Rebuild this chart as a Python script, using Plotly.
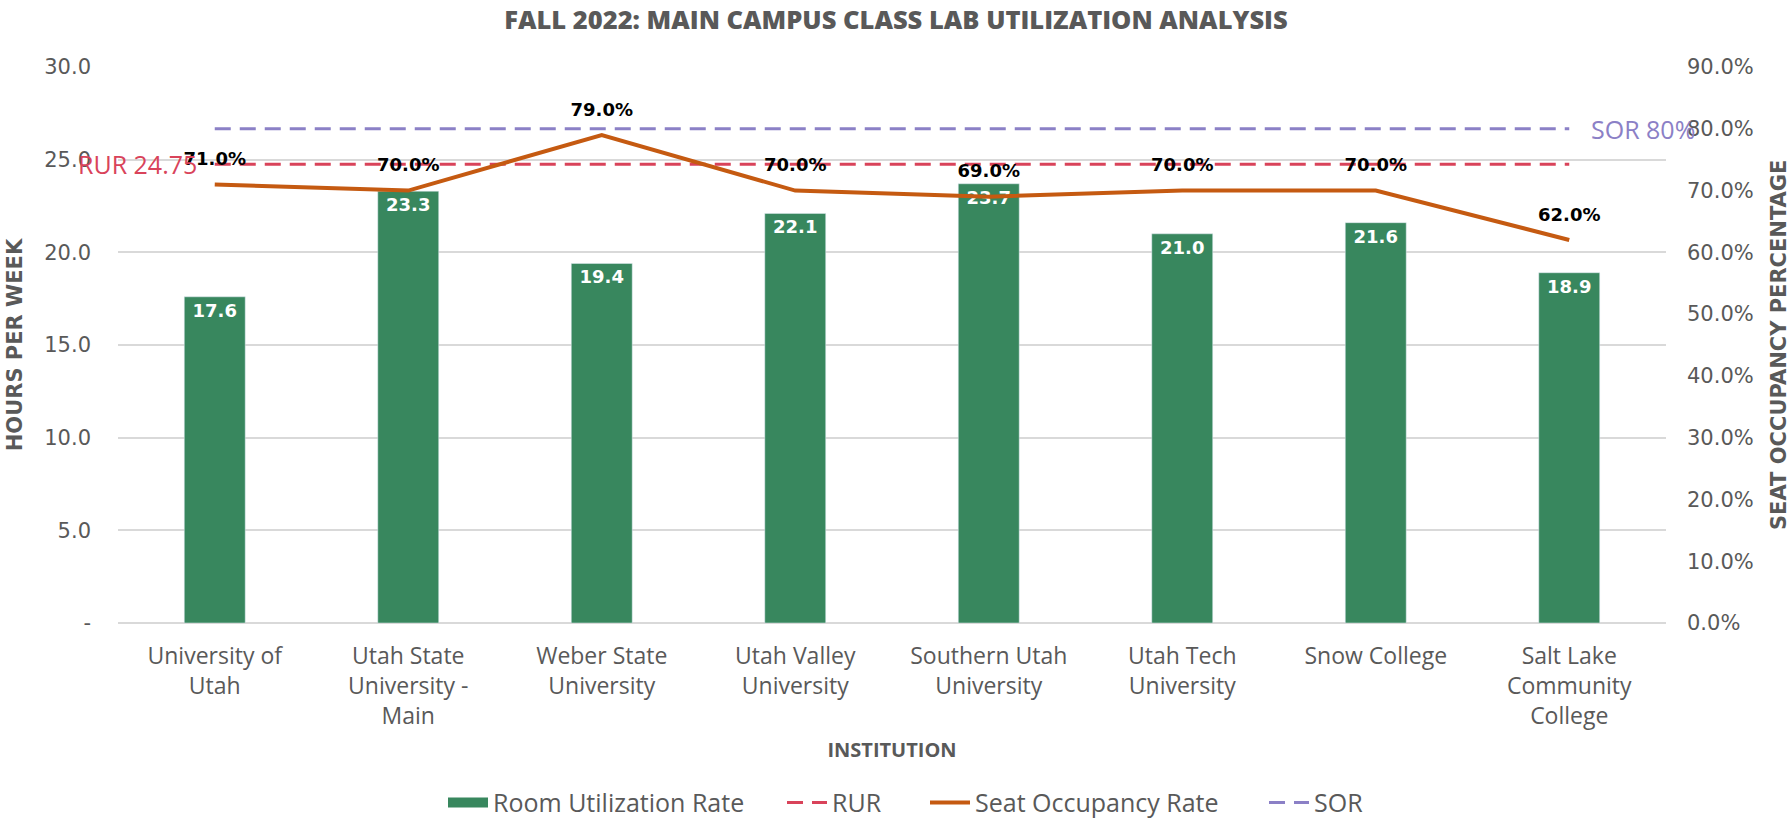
import plotly.graph_objects as go

categories = ["University of<br>Utah", "Utah State<br>University -<br>Main", "Weber State<br>University",
              "Utah Valley<br>University", "Southern Utah<br>University", "Utah Tech<br>University",
              "Snow College", "Salt Lake<br>Community<br>College"]
room_util = [17.6, 23.3, 19.4, 22.1, 23.7, 21.0, 21.6, 18.9]
seat_occ = [0.71, 0.70, 0.79, 0.70, 0.69, 0.70, 0.70, 0.62]
rur_value = 24.75
sor_value = 0.80
left_tickvals = [0, 5, 10, 15, 20, 25, 30]
left_ticktext = ["-", "5.0", "10.0", "15.0", "20.0", "25.0", "30.0"]
right_tickvals = [0, 0.1, 0.2, 0.3, 0.4, 0.5, 0.6, 0.7, 0.8, 0.9]

GREEN = "#38875E"
ORANGE = "#C55A11"
RED = "#D9435A"
PURPLE = "#8B80C6"
GRAY = "#595959"
TICKFONT = "DejaVu Sans, sans-serif"
CATFONT = "Open Sans, sans-serif"
W = 1792.0

fig = go.Figure()
fig.add_trace(go.Bar(
    x=categories, y=room_util, name="Room Utilization Rate", showlegend=False,
    marker=dict(color=GREEN), width=0.315,
    text=[f"{v:.1f}" for v in room_util], textposition="inside", insidetextanchor="end",
    textfont=dict(color="white", size=18, family=TICKFONT, weight="bold"),
    cliponaxis=False,
))
# legend entry for the bars (wide rectangle swatch)
fig.add_trace(go.Scatter(
    x=[categories[0]], y=[None], name="Room Utilization Rate", mode="lines",
    line=dict(color=GREEN, width=13), hoverinfo="skip", legend="legend",
))
fig.add_trace(go.Scatter(
    x=[categories[0], categories[-1]], y=[rur_value, rur_value], name="RUR",
    mode="lines", line=dict(color=RED, width=3, dash="16px,9px"), legend="legend2",
))
fig.add_trace(go.Scatter(
    x=categories, y=seat_occ, name="Seat Occupancy Rate", yaxis="y2",
    mode="lines+markers+text", line=dict(color=ORANGE, width=4),
    marker=dict(size=22, color="rgba(0,0,0,0)"),
    text=[f"{v*100:.1f}%" for v in seat_occ], textposition="top center",
    textfont=dict(color="black", size=18, family=TICKFONT, weight="bold"), cliponaxis=False,
    legend="legend3",
))
fig.add_trace(go.Scatter(
    x=[categories[0], categories[-1]], y=[sor_value, sor_value], name="SOR", yaxis="y2",
    mode="lines", line=dict(color=PURPLE, width=3, dash="16px,9px"), legend="legend4",
))

fig.add_annotation(
    text=f"RUR {rur_value}", x=categories[0], y=rur_value, xref="x", yref="y",
    xanchor="right", yanchor="middle", xshift=-16, showarrow=False,
    font=dict(color=RED, size=25, family=CATFONT),
)
fig.add_annotation(
    text=f"SOR {sor_value*100:.0f}%", x=categories[-1], y=sor_value, xref="x", yref="y2",
    xanchor="left", yanchor="middle", xshift=20, showarrow=False,
    font=dict(color=PURPLE, size=25, family=CATFONT),
)
fig.add_annotation(
    text="<b>SEAT OCCUPANCY PERCENTAGE</b>", xref="paper", yref="paper",
    x=1.073, y=0.5, xanchor="center", yanchor="middle", textangle=-90, showarrow=False,
    font=dict(family=TICKFONT, size=21, color=GRAY),
)

legend_common = dict(orientation="h", xanchor="left", xref="container", yref="container",
                     y=0.021, yanchor="middle", font=dict(family=CATFONT, size=25, color=GRAY),
                     bgcolor="rgba(0,0,0,0)", itemwidth=40)

fig.update_layout(
    width=1792, height=820,
    paper_bgcolor="white", plot_bgcolor="white",
    margin=dict(l=118, r=126, t=67, b=197),
    title=dict(text="FALL 2022: MAIN CAMPUS CLASS LAB UTILIZATION ANALYSIS",
               x=0.5, xanchor="center", y=0.976, yanchor="middle",
               font=dict(family=CATFONT, size=25.5, color=GRAY, weight=800)),
    xaxis=dict(tickfont=dict(family=CATFONT, size=23, color=GRAY),
               categoryorder="array", categoryarray=categories, range=[-0.5, len(categories) - 0.5],
               title=dict(text="<b>INSTITUTION</b>", font=dict(family=CATFONT, size=20, color=GRAY), standoff=13),
               showline=False, ticks="", automargin=False, ticklabelstandoff=17),
    yaxis=dict(range=[0, 30], tickvals=left_tickvals, ticktext=left_ticktext,
               tickfont=dict(family=TICKFONT, size=21, color=GRAY),
               gridcolor="#D9D9D9", gridwidth=1.5, zeroline=True, zerolinecolor="#D9D9D9", zerolinewidth=2,
               title=dict(text="<b>HOURS PER WEEK</b>", font=dict(family=TICKFONT, size=21, color=GRAY), standoff=15),
               ticklabelstandoff=26, automargin=False),
    yaxis2=dict(range=[0, 0.9], tickvals=right_tickvals, tickformat=".1%", overlaying="y", side="right",
                showgrid=False, zeroline=False,
                tickfont=dict(family=TICKFONT, size=21, color=GRAY),
                ticklabelstandoff=20, automargin=False),
    legend=dict(legend_common, x=443 / W),
    legend2=dict(legend_common, x=782 / W),
    legend3=dict(legend_common, x=925 / W),
    legend4=dict(legend_common, x=1264 / W),
    showlegend=True,
    bargap=0.69,
)
fig.write_html("out.html", config={"displayModeBar": False},
               post_script="document.body.style.margin='0';document.body.style.overflow='hidden';")
